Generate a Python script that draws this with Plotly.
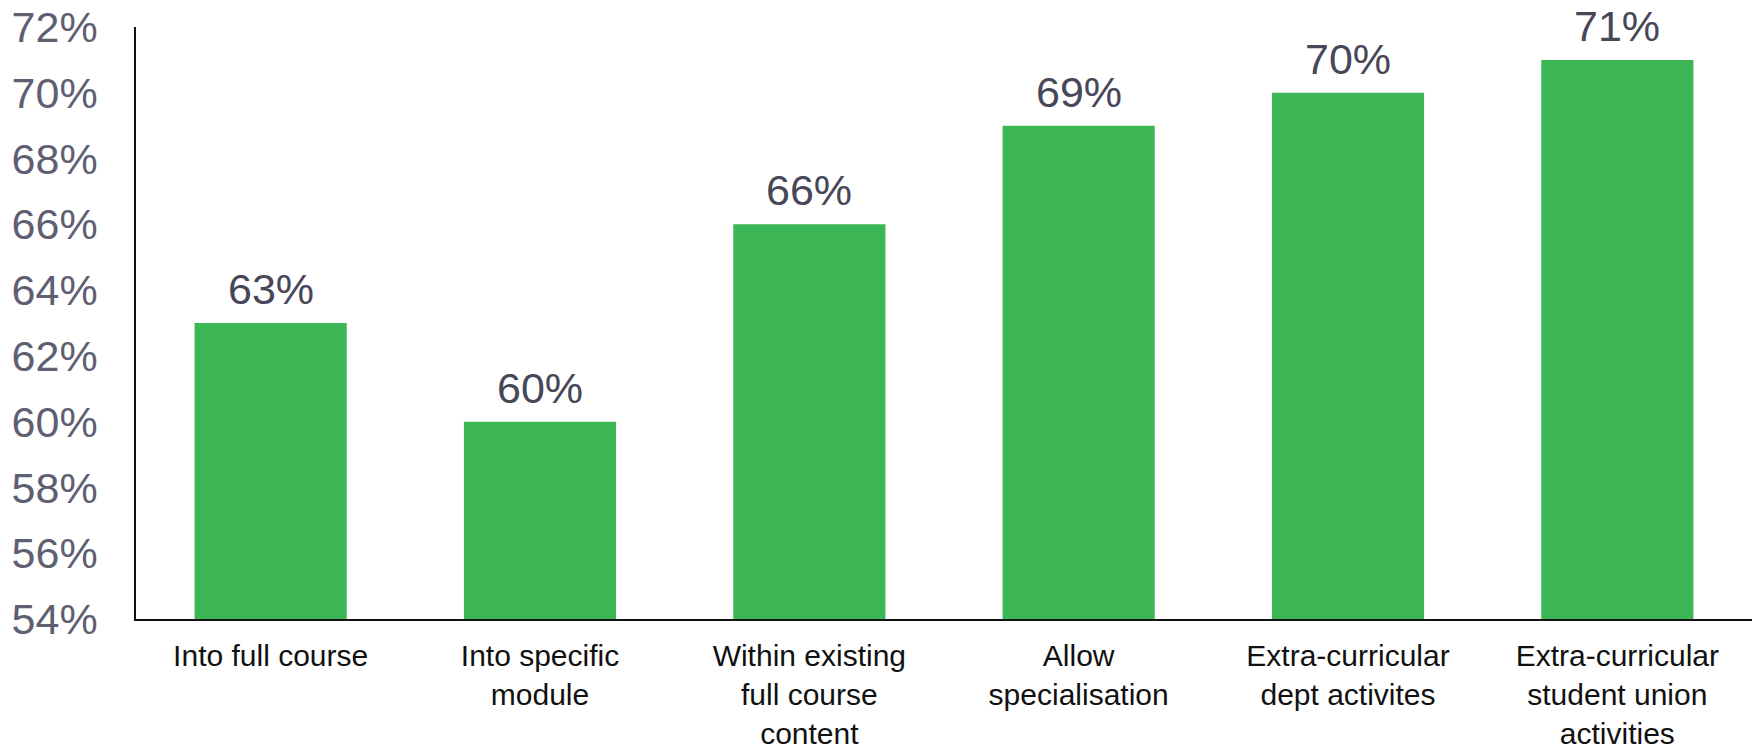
import plotly.graph_objects as go

categories = [
    "Into full course",
    "Into specific<br>module",
    "Within existing<br>full course<br>content",
    "Allow<br>specialisation",
    "Extra-curricular<br>dept activites",
    "Extra-curricular<br>student union<br>activities",
]
values = [63, 60, 66, 69, 70, 71]
y_ticks = [54, 56, 58, 60, 62, 64, 66, 68, 70, 72]

bar_color = "#3db655"
font_family = "Liberation Sans, Arial, sans-serif"

fig = go.Figure(
    go.Bar(
        x=categories,
        y=values,
        marker=dict(color=bar_color, line=dict(width=0)),
        hoverinfo="skip",
    )
)

# value labels above each bar
for cat, val in zip(categories, values):
    fig.add_annotation(
        x=cat, y=val, text=f"{val}%",
        showarrow=False, yanchor="bottom", yshift=8,
        font=dict(family=font_family, size=43, color="#474758"),
    )

fig.update_layout(
    width=1756, height=755,
    margin=dict(l=136, r=4, t=27, b=136, autoexpand=False),
    paper_bgcolor="white", plot_bgcolor="white",
    bargap=0.435,
    showlegend=False,
    font=dict(family=font_family),
)
fig.update_xaxes(
    showline=True, linecolor="#111111", linewidth=2,
    showgrid=False, ticks="", automargin=False,
    tickfont=dict(family=font_family, size=30, color="#111111"),
    ticklabelstandoff=9,
)
fig.update_yaxes(
    range=[54, 72],
    tickvals=y_ticks, ticktext=[f"{v}%" for v in y_ticks],
    showline=True, linecolor="#111111", linewidth=1.5,
    showgrid=False, ticks="", zeroline=False, automargin=False,
    tickfont=dict(family=font_family, size=43, color="#5f5f72"),
    ticklabelstandoff=28,
)

fig.write_html("out.html")
